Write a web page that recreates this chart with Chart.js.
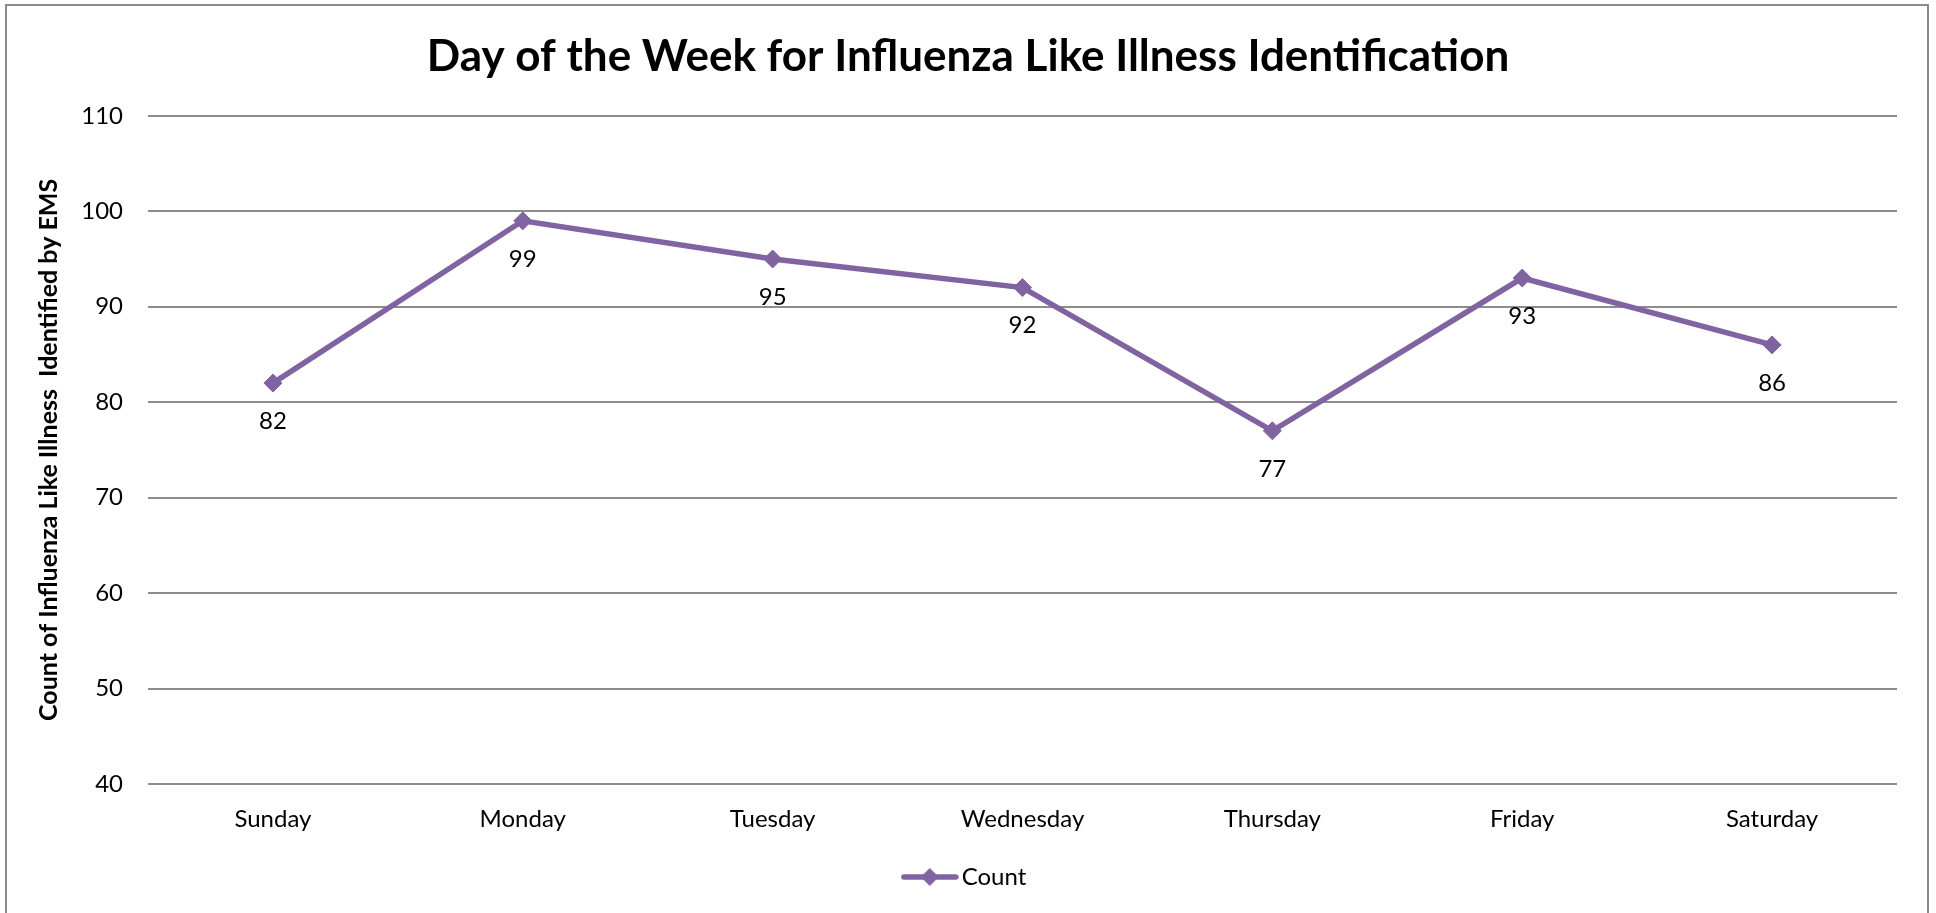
<!DOCTYPE html>
<html>
<head>
<meta charset="utf-8">
<script src="https://cdn.jsdelivr.net/npm/chart.js@4"></script>
<style>
  html, body { margin: 0; padding: 0; background: #fff; }
  #wrap { width: 1936px; height: 913px; }
</style>
</head>
<body>
<div id="wrap"><canvas id="grafik"></canvas></div>
<script>
const gunler = ["Sunday", "Monday", "Tuesday", "Wednesday", "Thursday", "Friday", "Saturday"];
const adetler = [82, 99, 95, 92, 77, 93, 86];
const seriAdi = "Count";
const yMin = 40, yMax = 110, yAdim = 10;

const mor = "#8064A2";
const yazi = "Lato, 'Open Sans', sans-serif";

// legend sample: line with a diamond in the middle
function legendIsareti() {
    const c = document.createElement("canvas");
    c.width = 58; c.height = 22;
    const g = c.getContext("2d");
    g.strokeStyle = mor;
    g.lineWidth = 5.5;
    g.lineCap = "round";
    g.beginPath(); g.moveTo(3, 11); g.lineTo(55, 11); g.stroke();
    g.fillStyle = mor;
    g.beginPath();
    g.moveTo(29, 2); g.lineTo(38, 11); g.lineTo(29, 20); g.lineTo(20, 11);
    g.closePath(); g.fill();
    return c;
}

// value labels under each point
const degerEtiketi = {
    id: "degerEtiketi",
    afterDatasetsDraw(chart) {
        const ctx = chart.ctx;
        const meta = chart.getDatasetMeta(0);
        ctx.save();
        ctx.font = "24px " + yazi;
        ctx.fillStyle = "#000";
        ctx.textAlign = "center";
        ctx.textBaseline = "middle";
        meta.data.forEach((p, i) => {
            ctx.fillText(String(adetler[i]), p.x, p.y + 38);
        });
        ctx.restore();
    }
};

// outer frame
const cerceve = {
    id: "cerceve",
    beforeDraw(chart) {
        const ctx = chart.ctx;
        ctx.save();
        ctx.strokeStyle = "#8a8a8a";
        ctx.lineWidth = 2;
        ctx.strokeRect(6, 5, 1922, 1000);
        ctx.restore();
    }
};

new Chart(document.getElementById("grafik"), {
    type: "line",
    data: {
        labels: gunler,
        datasets: [{
            label: seriAdi,
            data: adetler,
            borderColor: mor,
            backgroundColor: mor,
            borderWidth: 5.5,
            pointStyle: "rectRot",
            pointRadius: 9,
            pointBackgroundColor: mor,
            pointBorderColor: mor,
            pointBorderWidth: 1,
            tension: 0
        }]
    },
    options: {
        responsive: true,
        maintainAspectRatio: false,
        animation: false,
        layout: { padding: { left: 8, right: 8, top: 0, bottom: 14 } },
        plugins: {
            title: {
                display: true,
                text: "Day of the Week for Influenza Like Illness Identification",
                color: "#000",
                font: { family: yazi, size: 44, weight: "bold", lineHeight: 1.2 },
                padding: { top: 30, bottom: 33 }
            },
            legend: {
                position: "bottom",
                labels: {
                    usePointStyle: true,
                    pointStyleWidth: 40,
                    color: "#000",
                    font: { family: yazi, size: 24 },
                    padding: 10,
                    generateLabels: () => [{
                        text: seriAdi,
                        pointStyle: legendIsareti(),
                        fillStyle: mor,
                        strokeStyle: mor,
                        lineWidth: 0,
                        hidden: false,
                        datasetIndex: 0
                    }]
                }
            },
            tooltip: { enabled: false }
        },
        scales: {
            x: {
                offset: true,
                grid: { display: false, drawTicks: false },
                border: { display: false },
                ticks: { color: "#000", font: { family: yazi, size: 24 }, padding: 21, maxRotation: 0 },
                afterFit: s => { s.height = 71; }
            },
            y: {
                min: yMin,
                max: yMax,
                ticks: { stepSize: yAdim, color: "#000", font: { family: yazi, size: 24 }, padding: 25 },
                grid: { color: "#8c8c8c", lineWidth: 2, drawTicks: false },
                border: { display: false },
                title: {
                    display: true,
                    text: "Count of Influenza Like Illness  Identified by EMS",
                    color: "#000",
                    font: { family: yazi, size: 25, weight: "bold" },
                    padding: { top: 26, bottom: 0 }
                },
                afterFit: s => { s.width = 140; }
            },
            // empty right margin so title and legend centre on the page
            bos: {
                position: "right",
                display: true,
                grid: { display: false, drawTicks: false },
                border: { display: false },
                ticks: { display: false },
                afterFit: s => { s.width = 31; }
            }
        }
    },
    plugins: [degerEtiketi, cerceve]
});
</script>
</body>
</html>
